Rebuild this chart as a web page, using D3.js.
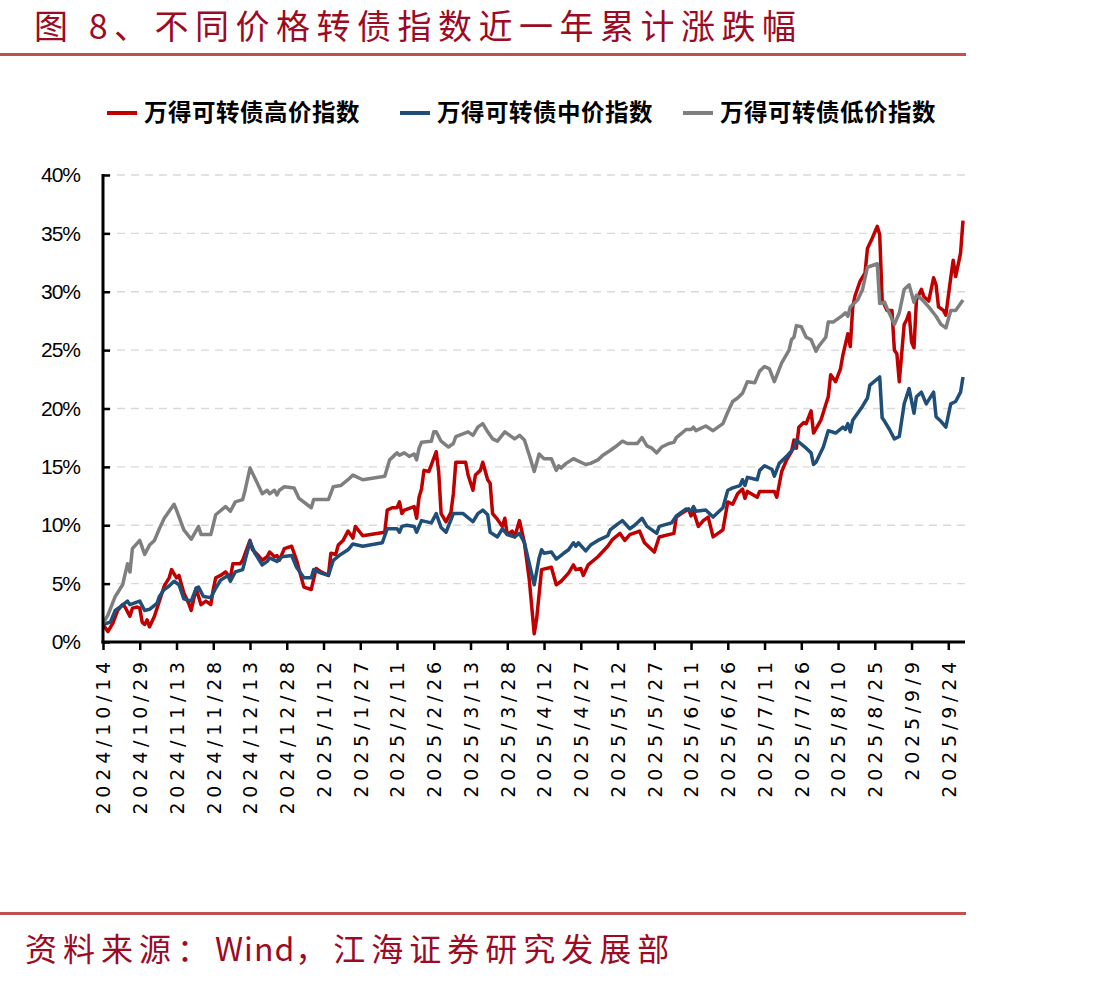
<!DOCTYPE html>
<html>
<head>
<meta charset="utf-8">
<script src="https://cdn.jsdelivr.net/npm/d3@7"></script>
<style>
  body { margin: 0; background: #fff; }
  svg { display: block; }
</style>
</head>
<body>
<div id="chart"></div>
<script>
// 万得可转债指数 累计涨跌幅 (%)
var highIdx = [
  ["2024-10-14",1.5],["2024-10-16",0.9],["2024-10-18",1.6],["2024-10-20",2.7],["2024-10-22",3.2],["2024-10-23",3.0],
  ["2024-10-25",2.2],["2024-10-26",2.9],["2024-10-28",3.0],["2024-10-29",2.9],["2024-10-30",1.7],["2024-10-31",1.5],
  ["2024-11-01",1.9],["2024-11-02",1.3],["2024-11-04",2.2],["2024-11-06",3.5],["2024-11-08",4.8],["2024-11-10",5.5],
  ["2024-11-11",6.2],["2024-11-13",5.5],["2024-11-14",5.7],["2024-11-16",4.2],["2024-11-18",3.3],["2024-11-19",2.7],
  ["2024-11-21",4.6],["2024-11-23",3.2],["2024-11-25",3.5],["2024-11-27",3.2],["2024-11-28",4.5],["2024-11-29",5.5],
  ["2024-12-01",5.7],["2024-12-03",6.0],["2024-12-05",5.5],["2024-12-06",6.7],["2024-12-09",6.7],["2024-12-10",7.0],
  ["2024-12-13",8.7],["2024-12-14",7.9],["2024-12-16",7.5],["2024-12-18",7.0],["2024-12-20",7.3],["2024-12-21",7.7],
  ["2024-12-23",7.3],["2024-12-24",7.4],["2024-12-25",7.0],["2024-12-27",8.0],["2024-12-30",8.2],["2025-01-01",7.0],
  ["2025-01-04",4.7],["2025-01-07",4.5],["2025-01-09",6.3],["2025-01-11",6.0],["2025-01-14",5.7],["2025-01-15",7.6],
  ["2025-01-17",7.5],["2025-01-18",8.3],["2025-01-20",8.7],["2025-01-22",9.5],["2025-01-24",8.9],["2025-01-25",9.9],
  ["2025-01-28",9.1],["2025-02-06",9.4],["2025-02-07",11.3],["2025-02-09",11.5],["2025-02-11",11.5],["2025-02-12",12.0],
  ["2025-02-13",11.0],["2025-02-14",11.3],["2025-02-18",11.6],["2025-02-19",10.6],["2025-02-20",12.4],["2025-02-21",13.1],
  ["2025-02-22",14.7],["2025-02-24",14.6],["2025-02-27",16.3],["2025-02-28",14.6],["2025-03-01",11.0],["2025-03-03",10.3],
  ["2025-03-05",11.1],["2025-03-06",12.7],["2025-03-07",15.4],["2025-03-09",15.4],["2025-03-11",15.4],["2025-03-12",14.3],
  ["2025-03-14",13.0],["2025-03-15",14.3],["2025-03-17",14.7],["2025-03-18",15.4],["2025-03-20",13.9],["2025-03-21",13.6],
  ["2025-03-22",11.0],["2025-03-24",10.5],["2025-03-26",9.9],["2025-03-27",10.6],["2025-03-28",9.2],["2025-03-30",9.5],
  ["2025-03-31",9.0],["2025-04-02",10.4],["2025-04-04",8.5],["2025-04-06",5.3],["2025-04-08",0.7],["2025-04-09",2.0],
  ["2025-04-11",6.2],["2025-04-15",6.4],["2025-04-17",4.9],["2025-04-19",5.2],["2025-04-22",5.9],["2025-04-24",6.6],
  ["2025-04-25",6.2],["2025-04-27",6.3],["2025-04-28",5.7],["2025-04-30",6.6],["2025-05-04",7.3],["2025-05-08",8.2],
  ["2025-05-10",8.8],["2025-05-13",9.3],["2025-05-15",8.7],["2025-05-17",9.2],["2025-05-21",9.5],["2025-05-23",8.5],
  ["2025-05-27",7.7],["2025-05-29",9.0],["2025-06-04",9.3],["2025-06-05",10.7],["2025-06-07",11.0],["2025-06-10",11.4],
  ["2025-06-11",10.8],["2025-06-12",11.2],["2025-06-14",9.9],["2025-06-16",10.4],["2025-06-18",10.7],["2025-06-20",9.0],
  ["2025-06-24",9.6],["2025-06-26",12.0],["2025-06-28",11.8],["2025-06-30",12.7],["2025-07-02",13.1],["2025-07-03",12.3],
  ["2025-07-04",12.9],["2025-07-08",12.4],["2025-07-09",12.9],["2025-07-15",12.9],["2025-07-16",12.4],["2025-07-18",14.6],
  ["2025-07-20",15.6],["2025-07-22",16.3],["2025-07-23",17.3],["2025-07-24",16.6],["2025-07-25",18.4],["2025-07-27",18.8],
  ["2025-07-28",18.7],["2025-07-30",19.8],["2025-07-31",17.9],["2025-08-03",19.0],["2025-08-06",21.0],["2025-08-07",22.9],
  ["2025-08-09",22.3],["2025-08-11",23.4],["2025-08-12",24.6],["2025-08-14",26.4],["2025-08-15",25.3],["2025-08-16",28.7],
  ["2025-08-17",29.7],["2025-08-19",30.9],["2025-08-21",31.6],["2025-08-22",33.7],["2025-08-24",34.6],["2025-08-26",35.6],
  ["2025-08-27",34.9],["2025-08-28",29.3],["2025-08-30",28.4],["2025-09-01",28.4],["2025-09-02",25.0],["2025-09-03",24.7],
  ["2025-09-04",22.3],["2025-09-06",27.2],["2025-09-07",27.6],["2025-09-08",28.2],["2025-09-09",25.7],["2025-09-10",25.2],
  ["2025-09-11",29.3],["2025-09-13",30.2],["2025-09-14",29.6],["2025-09-16",29.2],["2025-09-18",31.2],["2025-09-19",30.6],
  ["2025-09-20",28.7],["2025-09-22",28.4],["2025-09-23",28.0],["2025-09-25",31.2],["2025-09-26",32.7],["2025-09-27",31.3],
  ["2025-09-29",33.3],["2025-09-30",36.1]
];

var midIdx = [
  ["2024-10-14",1.5],["2024-10-17",1.7],["2024-10-19",2.7],["2024-10-21",3.0],["2024-10-24",3.5],["2024-10-25",3.2],
  ["2024-10-29",3.5],["2024-10-31",2.7],["2024-11-02",2.8],["2024-11-05",3.3],["2024-11-06",3.9],["2024-11-08",4.5],
  ["2024-11-10",4.8],["2024-11-12",5.2],["2024-11-14",4.9],["2024-11-16",3.7],["2024-11-19",3.5],["2024-11-21",4.6],
  ["2024-11-22",4.7],["2024-11-24",3.9],["2024-11-27",3.8],["2024-11-29",4.6],["2024-12-01",5.3],["2024-12-04",5.7],
  ["2024-12-05",5.2],["2024-12-07",6.0],["2024-12-10",6.2],["2024-12-13",8.6],["2024-12-15",7.6],["2024-12-18",6.6],
  ["2024-12-20",6.9],["2024-12-21",7.2],["2024-12-24",6.9],["2024-12-26",7.3],["2024-12-30",7.4],["2025-01-01",6.4],
  ["2025-01-04",5.5],["2025-01-07",5.5],["2025-01-08",6.2],["2025-01-11",5.9],["2025-01-14",5.7],["2025-01-16",7.0],
  ["2025-01-19",7.5],["2025-01-22",7.9],["2025-01-24",8.4],["2025-01-28",8.2],["2025-02-05",8.5],["2025-02-07",9.7],
  ["2025-02-11",9.7],["2025-02-12",9.4],["2025-02-13",9.9],["2025-02-15",10.0],["2025-02-18",9.9],["2025-02-19",9.4],
  ["2025-02-21",10.4],["2025-02-25",10.2],["2025-02-27",11.0],["2025-03-01",9.8],["2025-03-03",9.4],["2025-03-06",11.0],
  ["2025-03-10",11.0],["2025-03-14",10.3],["2025-03-16",11.0],["2025-03-18",11.3],["2025-03-20",10.9],["2025-03-21",9.4],
  ["2025-03-24",9.0],["2025-03-26",9.7],["2025-03-28",9.2],["2025-03-31",9.0],["2025-04-02",9.3],["2025-04-04",8.5],
  ["2025-04-08",4.9],["2025-04-10",7.2],["2025-04-11",7.9],["2025-04-12",7.6],["2025-04-15",7.7],["2025-04-17",7.1],
  ["2025-04-20",7.6],["2025-04-22",7.9],["2025-04-24",8.5],["2025-04-25",8.2],["2025-04-26",8.5],["2025-04-29",7.8],
  ["2025-05-01",8.3],["2025-05-04",8.7],["2025-05-08",9.1],["2025-05-09",9.6],["2025-05-12",10.1],["2025-05-14",10.4],
  ["2025-05-17",9.7],["2025-05-19",10.0],["2025-05-22",10.6],["2025-05-24",9.9],["2025-05-28",9.3],["2025-05-29",9.9],
  ["2025-06-03",10.2],["2025-06-05",10.8],["2025-06-09",11.4],["2025-06-11",11.2],["2025-06-12",11.6],["2025-06-13",11.2],
  ["2025-06-17",11.3],["2025-06-20",10.7],["2025-06-24",11.5],["2025-06-26",13.0],["2025-06-28",13.2],["2025-07-01",13.4],
  ["2025-07-02",13.9],["2025-07-03",13.4],["2025-07-04",14.1],["2025-07-06",14.0],["2025-07-08",13.9],["2025-07-09",14.7],
  ["2025-07-11",15.1],["2025-07-14",14.8],["2025-07-15",14.2],["2025-07-17",15.3],["2025-07-20",15.9],["2025-07-23",16.6],
  ["2025-07-24",17.3],["2025-07-28",16.6],["2025-07-30",16.2],["2025-07-31",15.2],["2025-08-01",15.4],["2025-08-04",16.7],
  ["2025-08-06",18.1],["2025-08-09",17.9],["2025-08-12",18.4],["2025-08-13",18.2],["2025-08-14",18.7],["2025-08-15",18.0],
  ["2025-08-16",19.0],["2025-08-20",20.2],["2025-08-22",20.9],["2025-08-23",22.0],["2025-08-27",22.7],["2025-08-28",19.2],
  ["2025-08-29",18.9],["2025-08-31",18.2],["2025-09-02",17.4],["2025-09-04",17.6],["2025-09-06",20.4],["2025-09-08",21.7],
  ["2025-09-10",19.6],["2025-09-11",21.0],["2025-09-13",21.4],["2025-09-15",20.4],["2025-09-18",21.4],["2025-09-19",19.3],
  ["2025-09-21",18.9],["2025-09-23",18.4],["2025-09-25",20.4],["2025-09-27",20.6],["2025-09-29",21.4],["2025-09-30",22.7]
];

var lowIdx = [
  ["2024-10-14",1.6],["2024-10-16",2.3],["2024-10-19",3.9],["2024-10-22",4.9],["2024-10-24",6.7],["2024-10-25",6.0],
  ["2024-10-26",8.0],["2024-10-29",8.7],["2024-10-31",7.5],["2024-11-02",8.3],["2024-11-04",8.7],["2024-11-06",9.7],
  ["2024-11-08",10.6],["2024-11-12",11.8],["2024-11-13",11.3],["2024-11-16",9.6],["2024-11-19",8.8],["2024-11-22",9.9],
  ["2024-11-23",9.2],["2024-11-27",9.2],["2024-11-29",10.9],["2024-12-03",11.6],["2024-12-05",11.2],["2024-12-07",12.0],
  ["2024-12-10",12.2],["2024-12-11",13.0],["2024-12-13",14.9],["2024-12-16",13.6],["2024-12-18",12.7],["2024-12-20",13.0],
  ["2024-12-21",12.7],["2024-12-23",13.0],["2024-12-24",12.6],["2024-12-25",13.0],["2024-12-27",13.3],["2024-12-31",13.2],
  ["2025-01-02",12.3],["2025-01-07",11.5],["2025-01-08",12.2],["2025-01-14",12.2],["2025-01-16",13.3],["2025-01-19",13.4],
  ["2025-01-22",13.9],["2025-01-24",14.3],["2025-01-28",13.9],["2025-02-06",14.2],["2025-02-08",15.6],["2025-02-11",16.2],
  ["2025-02-12",16.0],["2025-02-14",16.2],["2025-02-16",15.9],["2025-02-18",16.1],["2025-02-19",15.6],["2025-02-20",16.6],
  ["2025-02-21",17.1],["2025-02-25",17.2],["2025-02-26",18.0],["2025-02-27",18.0],["2025-03-01",17.2],["2025-03-04",16.7],
  ["2025-03-06",17.0],["2025-03-07",17.6],["2025-03-12",18.0],["2025-03-14",17.7],["2025-03-16",18.4],["2025-03-18",18.7],
  ["2025-03-20",18.0],["2025-03-22",17.4],["2025-03-24",17.2],["2025-03-27",18.0],["2025-03-29",17.7],["2025-03-31",17.4],
  ["2025-04-02",17.7],["2025-04-04",17.3],["2025-04-06",16.0],["2025-04-08",14.6],["2025-04-10",16.1],["2025-04-12",15.7],
  ["2025-04-15",15.7],["2025-04-17",14.7],["2025-04-18",15.1],["2025-04-19",14.9],["2025-04-21",15.3],["2025-04-24",15.7],
  ["2025-04-25",15.6],["2025-04-29",15.2],["2025-05-01",15.3],["2025-05-04",15.6],["2025-05-06",16.0],["2025-05-09",16.4],
  ["2025-05-11",16.7],["2025-05-14",17.2],["2025-05-16",17.0],["2025-05-20",17.0],["2025-05-22",17.5],["2025-05-24",16.8],
  ["2025-05-26",16.6],["2025-05-28",16.2],["2025-05-30",16.7],["2025-06-02",17.0],["2025-06-04",17.1],["2025-06-05",17.5],
  ["2025-06-09",18.2],["2025-06-11",18.2],["2025-06-12",18.4],["2025-06-13",18.1],["2025-06-17",18.5],["2025-06-20",18.1],
  ["2025-06-22",18.4],["2025-06-24",18.7],["2025-06-26",19.7],["2025-06-28",20.6],["2025-06-30",20.9],["2025-07-02",21.3],
  ["2025-07-04",22.3],["2025-07-07",22.2],["2025-07-09",23.2],["2025-07-11",23.6],["2025-07-13",23.4],["2025-07-15",22.3],
  ["2025-07-18",23.9],["2025-07-21",25.0],["2025-07-22",25.9],["2025-07-23",26.1],["2025-07-24",27.1],["2025-07-26",27.0],
  ["2025-07-28",26.1],["2025-07-30",25.9],["2025-08-01",24.9],["2025-08-02",25.3],["2025-08-05",26.1],["2025-08-06",27.4],
  ["2025-08-08",27.4],["2025-08-12",28.0],["2025-08-13",28.2],["2025-08-14",27.9],["2025-08-15",28.7],["2025-08-18",29.3],
  ["2025-08-20",30.2],["2025-08-22",32.1],["2025-08-26",32.4],["2025-08-27",29.0],["2025-08-29",29.1],["2025-08-30",28.6],
  ["2025-09-02",27.2],["2025-09-04",28.2],["2025-09-06",30.2],["2025-09-08",30.6],["2025-09-10",29.1],["2025-09-11",29.7],
  ["2025-09-13",29.4],["2025-09-16",28.7],["2025-09-19",27.9],["2025-09-21",27.2],["2025-09-23",26.9],["2025-09-25",28.4],
  ["2025-09-27",28.4],["2025-09-30",29.3]
];

var seriesNames = ["万得可转债高价指数", "万得可转债中价指数", "万得可转债低价指数"];
var seriesColors = ["#c00000", "#1f4e79", "#7f7f7f"];

var tickDates = ["2024/10/14","2024/10/29","2024/11/13","2024/11/28","2024/12/13","2024/12/28",
  "2025/1/12","2025/1/27","2025/2/11","2025/2/26","2025/3/13","2025/3/28","2025/4/12","2025/4/27",
  "2025/5/12","2025/5/27","2025/6/11","2025/6/26","2025/7/11","2025/7/26","2025/8/10","2025/8/25",
  "2025/9/9","2025/9/24"];
var yTicks = [0, 5, 10, 15, 20, 25, 30, 35, 40];

var titleText = "图 8、不同价格转债指数近一年累计涨跌幅";
var sourceParts = ["资料来源：", "Wind", "，江海证券研究发展部"];

var W = 1110, H = 981;
var margin = {top: 175, right: 147, bottom: 339, left: 103};
var width = 963 - margin.left, height = 642 - margin.top;

var parseDash = d3.timeParse("%Y-%m-%d");
var parseSlash = d3.timeParse("%Y/%m/%d");

var svg = d3.select("#chart").append("svg")
    .attr("width", W)
    .attr("height", H);

// title + rules
svg.append("text")
    .attr("x", 34)
    .attr("y", 39)
    .attr("textLength", 762)
    .attr("lengthAdjust", "spacing")
    .style("font-family", "'Noto Sans CJK SC'")
    .style("font-size", "34px")
    .style("fill", "#9c0a24")
    .text(titleText);

svg.append("rect")
    .attr("x", 0).attr("y", 53)
    .attr("width", 966).attr("height", 3)
    .attr("fill", "#c0504d");

svg.append("rect")
    .attr("x", 0).attr("y", 912)
    .attr("width", 966).attr("height", 3)
    .attr("fill", "#c0504d");

var source = svg.append("text")
    .attr("x", 25)
    .attr("y", 961)
    .style("font-family", "'Noto Sans CJK SC'")
    .style("font-size", "32px")
    .style("fill", "#9c0a24");
sourceParts.forEach(function (s, i) {
    source.append("tspan")
        .style("letter-spacing", i === 1 ? "1px" : "6px")
        .text(s);
});

// legend
var legendX = [107, 400, 683];
seriesNames.forEach(function (name, i) {
    var g = svg.append("g").attr("transform", "translate(" + legendX[i] + ",113)");
    g.append("line")
        .attr("x1", 0).attr("x2", 30)
        .attr("y1", 0).attr("y2", 0)
        .attr("stroke", seriesColors[i])
        .attr("stroke-width", 4);
    g.append("text")
        .attr("x", 37)
        .attr("y", 0)
        .attr("dy", "0.36em")
        .style("font-family", "'Noto Sans CJK SC'")
        .style("font-weight", "700")
        .style("font-size", "23.5px")
        .style("letter-spacing", "0.5px")
        .style("fill", "#000")
        .text(name);
});

var plot = svg.append("g")
    .attr("transform", "translate(" + margin.left + "," + margin.top + ")");

var x = d3.scaleTime()
    .domain([parseDash("2024-10-14"), parseDash("2025-09-30")])
    .range([0, width]);

var y = d3.scaleLinear()
    .domain([0, 40])
    .range([height, 0]);

// gridlines
plot.selectAll(".grid")
    .data(yTicks.filter(function (d) { return d > 0; }))
    .enter().append("line")
    .attr("class", "grid")
    .attr("x1", 0).attr("x2", width + 2)
    .attr("y1", function (d) { return y(d); })
    .attr("y2", function (d) { return y(d); })
    .attr("stroke", "#d9d9d9")
    .attr("stroke-width", 1.3)
    .attr("stroke-dasharray", "8,6");

// lines
var line = d3.line()
    .x(function (d) { return x(parseDash(d[0])); })
    .y(function (d) { return y(d[1]); });

[highIdx, midIdx, lowIdx].forEach(function (data, i) {
    plot.append("path")
        .datum(data)
        .attr("fill", "none")
        .attr("stroke", seriesColors[i])
        .attr("stroke-width", 3.5)
        .attr("stroke-linejoin", "round")
        .attr("d", line);
});

// y axis
var yAxis = d3.axisLeft(y)
    .tickValues(yTicks)
    .tickSize(-7)
    .tickPadding(23)
    .tickFormat(function (d) { return d + "%"; });

var yAxisGroup = plot.append("g").attr("class", "y-axis").call(yAxis);
yAxisGroup.select(".domain").remove();
yAxisGroup.selectAll(".tick line").attr("stroke", "#000").attr("stroke-width", 2.5);
yAxisGroup.selectAll("text")
    .style("font-family", "'Liberation Sans Narrow', 'Liberation Sans', sans-serif")
    .style("font-size", "21px")
    .style("letter-spacing", "-1px")
    .style("fill", "#000");
plot.append("line")
    .attr("x1", 0).attr("x2", 0)
    .attr("y1", -1).attr("y2", height + 1.5)
    .attr("stroke", "#000").attr("stroke-width", 3);

// x axis
var xAxis = d3.axisBottom(x)
    .tickValues(tickDates.map(function (s) { return parseSlash(s); }))
    .tickSize(8)
    .tickSizeOuter(0)
    .tickFormat(function (d, i) { return tickDates[i]; });

var xAxisGroup = plot.append("g")
    .attr("class", "x-axis")
    .attr("transform", "translate(0," + height + ")")
    .call(xAxis);
xAxisGroup.select(".domain").remove();
xAxisGroup.selectAll(".tick line").attr("stroke", "#000").attr("stroke-width", 2.5);
xAxisGroup.selectAll("text")
    .attr("transform", "rotate(-90)")
    .attr("x", -15)
    .attr("y", 0)
    .attr("dy", "0.36em")
    .style("text-anchor", "end")
    .style("font-family", "'DejaVu Sans', sans-serif")
    .style("font-size", "19px")
    .style("letter-spacing", "4.8px")
    .style("fill", "#000");
plot.append("line")
    .attr("x1", -1.5).attr("x2", 862)
    .attr("y1", height).attr("y2", height)
    .attr("stroke", "#000").attr("stroke-width", 3);
</script>
</body>
</html>
